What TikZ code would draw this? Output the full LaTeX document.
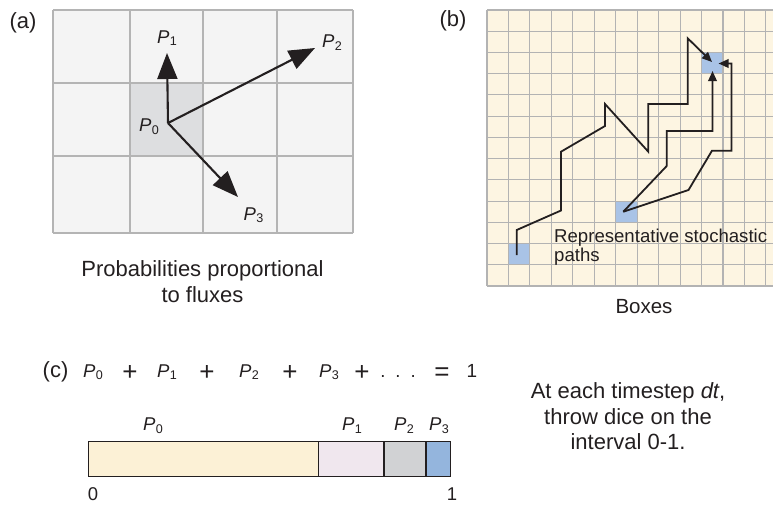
\documentclass[tikz,border=0pt]{standalone}
\usepackage{fontspec}
\setmainfont{Liberation Sans}
\usetikzlibrary{arrows.meta}
\definecolor{txt}{HTML}{231F20}
\definecolor{acell}{HTML}{F4F4F4}
\definecolor{ashade}{HTML}{DDDEE0}
\definecolor{aline}{HTML}{B4B4B4}
\definecolor{bcell}{HTML}{FDF5E2}
\definecolor{bblue}{HTML}{A9C3E6}
\definecolor{bline}{HTML}{B3B3B3}
\definecolor{cone}{HTML}{FCF1D6}
\definecolor{ctwo}{HTML}{F0E7EE}
\definecolor{cthree}{HTML}{D1D2D4}
\definecolor{cfour}{HTML}{94B5DD}
\newcommand\Psub[1]{\textit{P}\kern0.03em\raisebox{-0.14em}{\scalebox{0.68}{#1}}}
\newcommand\fsz[1]{\fontsize{#1}{#1}\selectfont}
\begin{document}
\begin{tikzpicture}[x=1pt,y=-1pt,
  every node/.style={inner sep=0pt,text=txt},
  bigtxt/.style={font=\fsz{22}},
  ptxt/.style={font=\fsz{18.5}},
  optxt/.style={font=\fsz{26}},
  gridA/.style={draw=aline,line width=1.5pt},
  gridB/.style={draw=bline,line width=1.1pt},
  fluxarrow/.style={draw=txt,line width=2.1pt,-{Triangle[length=26pt,width=20pt]}},
  walk/.style={draw=txt,line width=1.8pt,line join=miter,miter limit=4,-{Triangle[length=10pt,width=8.5pt]}},
  seg/.style={draw=txt,line width=1.2pt}]
\useasboundingbox (0,0) rectangle (773,504);

% ---------- panel (a) ----------
\fill[acell] (53,10) rectangle (353,233);
\fill[ashade] (130,83) rectangle (203,156);
\foreach \xx in {53,130,203,277,353} \draw[gridA] (\xx,10) -- (\xx,233);
\foreach \yy in {10,83,156,233} \draw[gridA] (53,\yy) -- (353,\yy);
\node[bigtxt,anchor=base] (la) at (23,28) {(a)};
\coordinate (p0) at (168,123);
\coordinate (t1) at (167,53);
\coordinate (t2) at (315,48);
\coordinate (t3) at (238,197);
\draw[fluxarrow] (p0) -- (t1);
\draw[fluxarrow] (p0) -- (t2);
\draw[fluxarrow] (p0) -- (t3);
\node[ptxt,anchor=base] (P0a) at (149,131.5) {\Psub{0}};
\node[ptxt,anchor=base] (P1a) at (167,43) {\Psub{1}};
\node[ptxt,anchor=base] (P2a) at (332,47.5) {\Psub{2}};
\node[ptxt,anchor=base] (P3a) at (253.5,220) {\Psub{3}};
\node[bigtxt,anchor=base] (capa1) at (202.5,276.5) {Probabilities proportional};
\node[bigtxt,anchor=base] (capa2) at (202.5,302) {to fluxes};

% ---------- panel (b) ----------
\fill[bcell] (487,10) rectangle (773,286);
\fill[bblue] (701.5,52.46) rectangle (722.95,73.69);
\fill[bblue] (615.7,201.07) rectangle (637.15,222.3);
\fill[bblue] (508.45,243.53) rectangle (529.9,264.76);
\foreach \k in {0,...,13} \draw[gridB] ({487+\k*21.45},10) -- ({487+\k*21.45},286);
\foreach \k in {0,...,13} \draw[gridB] (487,{10+\k*21.23}) -- (773,{10+\k*21.23});
\node[bigtxt,anchor=base] (lb) at (453,26) {(b)};
% path 1
\coordinate (a1) at (516.7,255);
\coordinate (a2) at (516.7,230);
\coordinate (a3) at (561,210.5);
\coordinate (a4) at (561,151.7);
\coordinate (a5) at (605,126);
\coordinate (a6) at (605,104);
\coordinate (a7) at (648.3,151.7);
\coordinate (a8) at (648.3,104);
\coordinate (a9) at (687.7,104);
\coordinate (a10) at (687.7,38.3);
\coordinate (h1) at (712,62);
\draw[walk] (a1) -- (a2) -- (a3) -- (a4) -- (a5) -- (a6) -- (a7) -- (a8) -- (a9) -- (a10) -- (h1);
% path 2
\coordinate (s2) at (623.3,211.7);
\coordinate (b1) at (666.7,166);
\coordinate (b2) at (666.7,131);
\coordinate (b3) at (712.5,131);
\coordinate (h2) at (712.5,71);
\draw[walk] (s2) -- (b1) -- (b2) -- (b3) -- (h2);
% path 3
\coordinate (c1) at (688.5,190);
\coordinate (c2) at (712,150.7);
\coordinate (c3) at (731.5,150.7);
\coordinate (c4) at (731.5,63.5);
\coordinate (h3) at (718.5,63.5);
\draw[walk] (s2) -- (c1) -- (c2) -- (c3) -- (c4) -- (h3);
\node[font=\fsz{18.6},align=left,anchor=base west] (rep) at (554,261) {Representative stochastic\\[-0.5pt]paths};
\node[font=\fsz{20.5},anchor=base] (boxes) at (644,313) {Boxes};

% ---------- panel (c) ----------
\node[bigtxt,anchor=base] (lc) at (55.5,377) {(c)};
\node[ptxt,anchor=base] (e0) at (93,377) {\Psub{0}};
\node[optxt,anchor=base] (e1) at (130,380) {+};
\node[ptxt,anchor=base] (e2) at (167,377) {\Psub{1}};
\node[optxt,anchor=base] (e3) at (207,380) {+};
\node[ptxt,anchor=base] (e4) at (249,377) {\Psub{2}};
\node[optxt,anchor=base] (e5) at (290,380) {+};
\node[ptxt,anchor=base] (e6) at (329,377) {\Psub{3}};
\node[optxt,anchor=base] (e7) at (362,380) {+};
\node[ptxt,anchor=base] (e8) at (398,377) {.\kern10pt.\kern10pt.};
\node[optxt,anchor=base] (e9) at (442,380) {=};
\node[font=\fsz{19},anchor=base] (e10) at (472,377) {1};

\fill[cone] (88.3,441.7) rectangle (318.3,476.7);
\fill[ctwo] (318.3,441.7) rectangle (384,476.7);
\fill[cthree] (384,441.7) rectangle (426,476.7);
\fill[cfour] (426,441.7) rectangle (450.7,476.7);
\draw[seg] (88.3,441.7) rectangle (450.7,476.7);
\draw[seg] (318.3,441.7) -- (318.3,476.7);
\draw[seg] (384,441.7) -- (384,476.7);
\draw[seg] (426,441.7) -- (426,476.7);
\node[ptxt,anchor=base] (q0) at (153,430.7) {\Psub{0}};
\node[ptxt,anchor=base] (q1) at (352,430.7) {\Psub{1}};
\node[ptxt,anchor=base] (q2) at (404,430.7) {\Psub{2}};
\node[ptxt,anchor=base] (q3) at (439,430.7) {\Psub{3}};
\node[ptxt,anchor=base] (z0) at (93,500.5) {0};
\node[ptxt,anchor=base] (z1) at (452,500.5) {1};

\node[bigtxt,anchor=base] (d1) at (628,398) {At each timestep \textit{dt},};
\node[bigtxt,anchor=base] (d2) at (628,424) {throw dice on the};
\node[bigtxt,anchor=base] (d3) at (628,449.5) {interval 0-1.};
\end{tikzpicture}
\end{document}
